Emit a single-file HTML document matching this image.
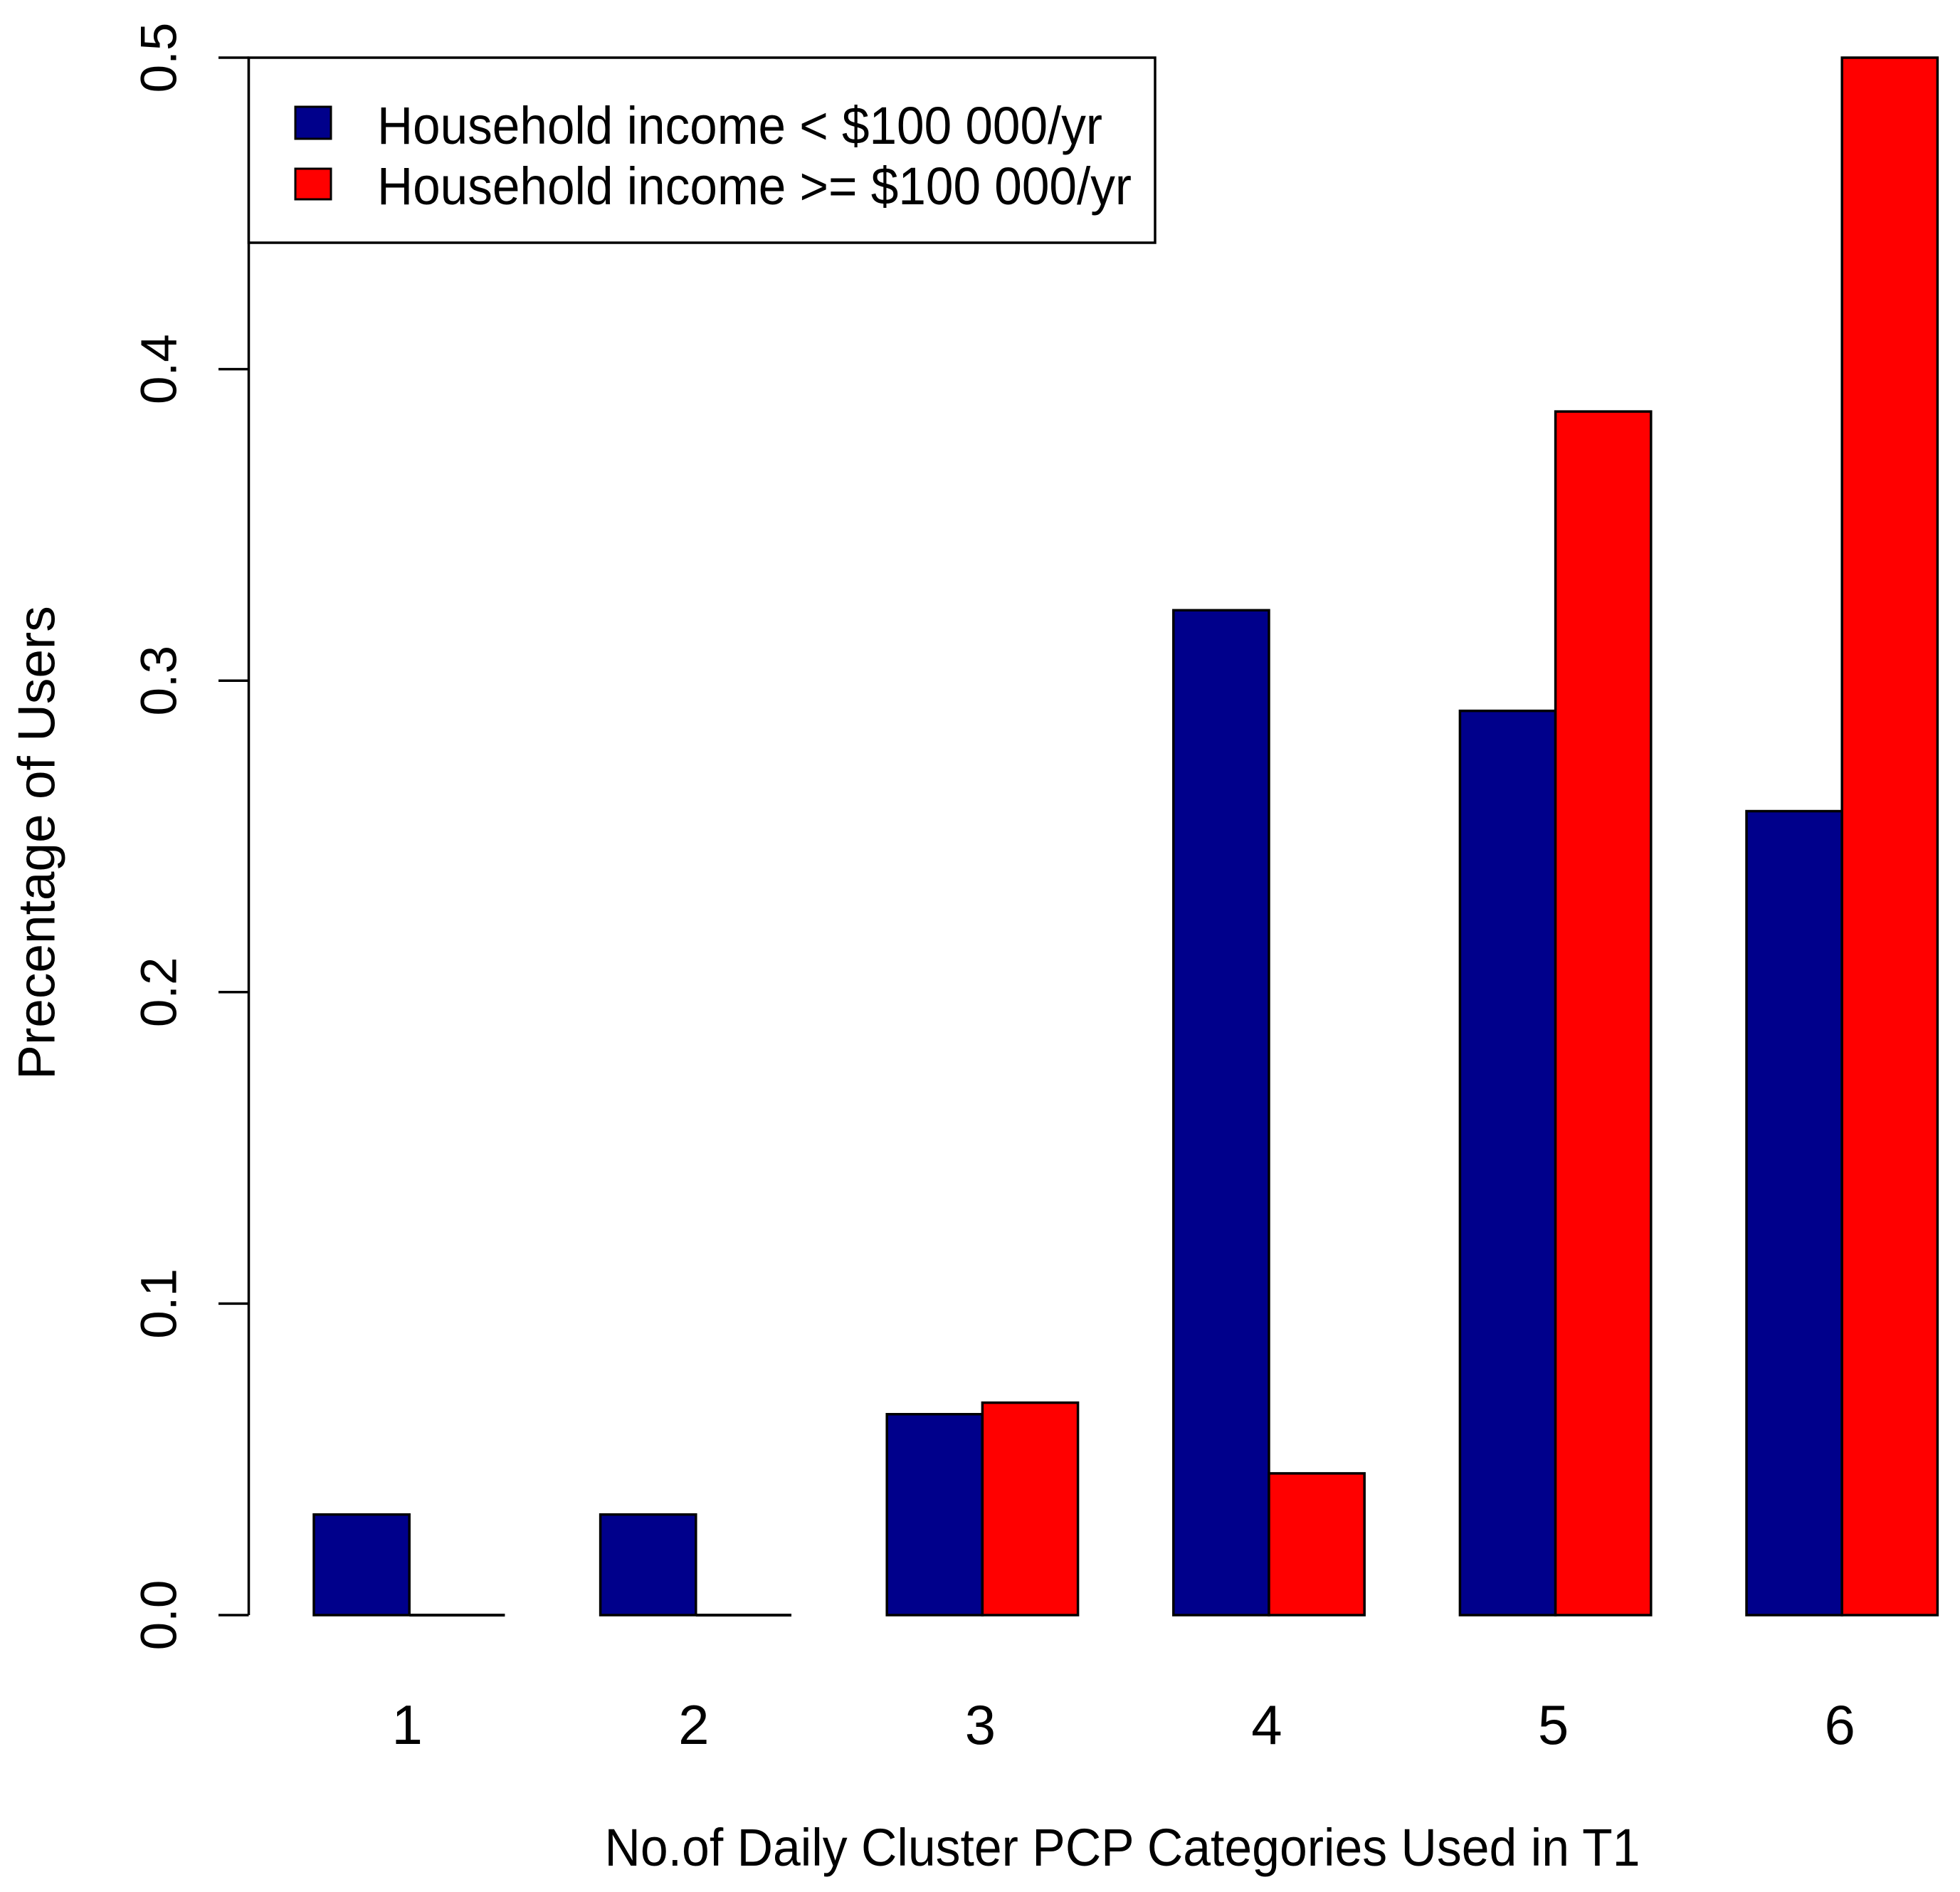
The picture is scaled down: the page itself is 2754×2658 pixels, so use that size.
<!DOCTYPE html>
<html><head><meta charset="utf-8"><style>
html,body{margin:0;padding:0;background:#fff;}
svg{display:block;font-family:"Liberation Sans",Arial,sans-serif;}
</style></head><body>
<svg id="chart" width="2754" height="2658" viewBox="0 0 2754 2658" xmlns="http://www.w3.org/2000/svg">
<rect width="2754" height="2658" fill="#fff"/>
<g id="bars"></g>
<g id="yaxis"></g>
<g id="xlabels"></g>
<text x="52" y="1184" font-size="73" text-anchor="middle" transform="rotate(-90 52 1184)" dominant-baseline="central">Precentage of Users</text>
<text x="1577" y="2621" font-size="74" text-anchor="middle" textLength="1455" lengthAdjust="spacingAndGlyphs">No.of Daily Cluster PCP Categories Used in T1</text>
<g>
<rect x="349.5" y="81" width="1273.5" height="260" fill="#fff" stroke="#000" stroke-width="3.5"/>
<rect x="415" y="150" width="50" height="45" fill="#00008B" stroke="#000" stroke-width="3"/>
<text x="530" y="202" font-size="74" textLength="1019" lengthAdjust="spacingAndGlyphs">Household income &lt; $100 000/yr</text>
<rect x="415" y="237" width="50" height="43" fill="#FF0000" stroke="#000" stroke-width="3"/>
<text x="530" y="287" font-size="74" textLength="1060" lengthAdjust="spacingAndGlyphs">Household income &gt;= $100 000/yr</text>
</g>
</svg>
<script>
const categories = ["1","2","3","4","5","6"];
const lowIncome = [0.0323, 0.0323, 0.0645, 0.3226, 0.2903, 0.2581];
const highIncome = [0, 0, 0.0682, 0.0455, 0.3864, 0.5];
const yTicks = [0, 0.1, 0.2, 0.3, 0.4, 0.5];
const yTickLabels = ["0.0","0.1","0.2","0.3","0.4","0.5"];

const NS = "http://www.w3.org/2000/svg";
const y0 = 2269, yTop = 81, yMax = 0.5;
function yScale(v){ return y0 - (v / yMax) * (y0 - yTop); }
const unit = 134.2, left0 = 441;
function xBar(group, series){ return left0 + group * 3 * unit + series * unit; }

const bars = document.getElementById('bars');
function addBar(g, s, v, color, name){
  const y = yScale(v);
  let r;
  if (y0 - y < 1) {
    r = document.createElementNS(NS, 'line');
    r.setAttribute('x1', xBar(g, s));
    r.setAttribute('x2', xBar(g, s) + unit);
    r.setAttribute('y1', y0);
    r.setAttribute('y2', y0);
    r.setAttribute('stroke', '#000');
    r.setAttribute('stroke-width', '4');
  } else {
    r = document.createElementNS(NS, 'rect');
    r.setAttribute('x', xBar(g, s));
    r.setAttribute('y', y);
    r.setAttribute('width', unit);
    r.setAttribute('height', y0 - y);
    r.setAttribute('fill', color);
    r.setAttribute('stroke', '#000');
    r.setAttribute('stroke-width', '3.5');
  }
  
  
  bars.appendChild(r);
}
categories.forEach((c, i) => {
  addBar(i, 0, lowIncome[i], '#00008B', 'bar-low-' + c);
  addBar(i, 1, highIncome[i], '#FF0000', 'bar-high-' + c);
});

const yaxis = document.getElementById('yaxis');
const axisX = 349.5;
const line = document.createElementNS(NS, 'line');
line.setAttribute('x1', axisX); line.setAttribute('x2', axisX);
line.setAttribute('y1', yScale(yTicks[0])); line.setAttribute('y2', yScale(yTicks[yTicks.length-1]));
line.setAttribute('stroke', '#000'); line.setAttribute('stroke-width', '3.5');


yaxis.appendChild(line);
yTicks.forEach((t, i) => {
  const y = yScale(t);
  const tk = document.createElementNS(NS, 'line');
  tk.setAttribute('x1', 307); tk.setAttribute('x2', axisX);
  tk.setAttribute('y1', y); tk.setAttribute('y2', y);
  tk.setAttribute('stroke', '#000'); tk.setAttribute('stroke-width', '3.5');
  
  
  yaxis.appendChild(tk);
  const tx = document.createElementNS(NS, 'text');
  tx.setAttribute('x', 224); tx.setAttribute('y', y);
  tx.setAttribute('font-size', '71');
  tx.setAttribute('text-anchor', 'middle');
  tx.setAttribute('dominant-baseline', 'central');
  tx.setAttribute('transform', 'rotate(-90 224 ' + y + ')');
  tx.textContent = yTickLabels[i];
  
  
  yaxis.appendChild(tx);
});

const xl = document.getElementById('xlabels');
categories.forEach((c, i) => {
  const tx = document.createElementNS(NS, 'text');
  tx.setAttribute('x', xBar(i, 1) - 3);
  tx.setAttribute('y', 2450);
  tx.setAttribute('font-size', '78');
  tx.setAttribute('text-anchor', 'middle');
  tx.textContent = c;
  
  
  xl.appendChild(tx);
});
</script>
</body></html>
